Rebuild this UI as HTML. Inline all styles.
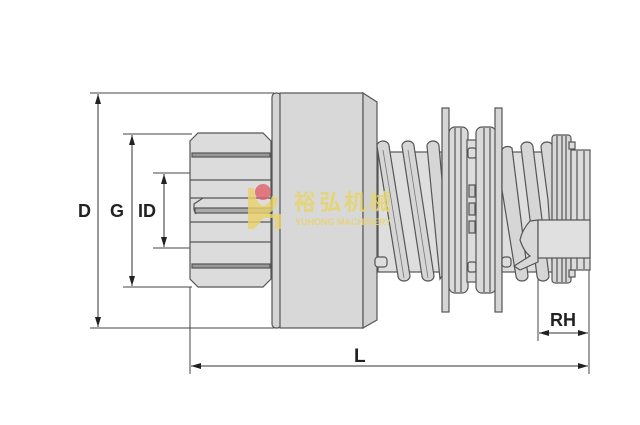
<!DOCTYPE html>
<html><head><meta charset="utf-8"><style>
html,body{margin:0;padding:0;background:#fff;}
svg{display:block;}
</style></head><body>
<svg width="640" height="425" viewBox="0 0 640 425" xmlns="http://www.w3.org/2000/svg">
<defs>
<marker id="a" viewBox="0 0 10 6" refX="10" refY="3" markerWidth="10" markerHeight="6" markerUnits="userSpaceOnUse" orient="auto-start-reverse"><path d="M0,0 L10,3 L0,6 z" fill="#222"/></marker>
</defs>
<rect width="640" height="425" fill="#fff"/>

<!-- dimension extension lines -->
<g stroke="#444" stroke-width="1" fill="none">
<line x1="90" y1="93" x2="274" y2="93"/>
<line x1="90" y1="328" x2="274" y2="328"/>
<line x1="123" y1="134" x2="192" y2="134"/>
<line x1="123" y1="287" x2="192" y2="287"/>
<line x1="153" y1="173" x2="190" y2="173"/>
<line x1="153" y1="248" x2="190" y2="248"/>
<line x1="190" y1="287" x2="190" y2="374"/>
<line x1="589" y1="262" x2="589" y2="374"/>
<line x1="538" y1="262" x2="538" y2="341"/>
</g>
<g stroke="#333" stroke-width="1">
<line x1="98" y1="94" x2="98" y2="327" marker-start="url(#a)" marker-end="url(#a)"/>
<line x1="132" y1="135" x2="132" y2="286" marker-start="url(#a)" marker-end="url(#a)"/>
<line x1="164" y1="174" x2="164" y2="247" marker-start="url(#a)" marker-end="url(#a)"/>
<line x1="191" y1="366" x2="588" y2="366" marker-start="url(#a)" marker-end="url(#a)"/>
<line x1="539" y1="333" x2="588" y2="333" marker-start="url(#a)" marker-end="url(#a)"/>
</g>
<g font-family="Liberation Sans, sans-serif" font-weight="bold" font-size="18" fill="#222">
<text x="78" y="217">D</text>
<text x="110" y="217">G</text>
<text x="138" y="217">ID</text>
<text x="354" y="362" font-size="19">L</text>
<text x="550" y="326">RH</text>
</g>

<!-- pinion -->
<g stroke="#555" stroke-width="1.2">
<polygon points="198,133 263,133 271,141 271,279 263,287 198,287 190,279 190,141" fill="#dcdcdc"/>
<rect x="192" y="153" width="78" height="4" fill="#999"/>
<rect x="192" y="264" width="78" height="4" fill="#999"/>
<line x1="190" y1="180" x2="271" y2="180"/>
<line x1="190" y1="198" x2="271" y2="198"/>
<rect x="195" y="208" width="76" height="5" fill="#aaa"/>
<line x1="190" y1="222" x2="271" y2="222"/>
<line x1="190" y1="242" x2="271" y2="242"/>
<polyline points="203,198 194,204 194,210 196,214" fill="none"/>
</g>

<!-- main body -->
<g stroke="#555" stroke-width="1.2">
<rect x="272" y="93" width="9" height="235" rx="4" fill="#d4d4d4"/>
<rect x="280" y="93" width="83" height="235" fill="#d8d8d8"/>
<polygon points="363,93 377,102 377,320 363,328" fill="#d0d0d0"/>
</g>

<!-- spring 1 -->
<g stroke="#555" stroke-width="1.2">
<rect x="378" y="152" width="64" height="120" fill="#dedede"/>
<rect x="375" y="257" width="12" height="10" rx="3" fill="#ddd"/>
<path d="M377,146 a6,5 0 0 1 12,0 L410,276 a6,5 0 0 1 -12,0 Z" fill="#d6d6d6"/>
<path d="M402,146 a6,5 0 0 1 12,0 L434,276 a6,5 0 0 1 -12,0 Z" fill="#d6d6d6"/>
<path d="M427,146 a6,5 0 0 1 12,0 L442,180 L442,276 L440,279 Z" fill="#d6d6d6"/>
<line x1="383" y1="150" x2="404" y2="278" stroke="#777" stroke-width="0.8"/>
<line x1="408" y1="150" x2="428" y2="278" stroke="#777" stroke-width="0.8"/>
</g>

<!-- disks & hubs -->
<g stroke="#555" stroke-width="1.2">
<rect x="442" y="108" width="7" height="204" fill="#d6d6d6"/>
<rect x="449" y="127" width="19" height="166" rx="6" fill="#dadada"/>
<line x1="455" y1="128" x2="455" y2="292"/>
<line x1="461" y1="128" x2="461" y2="292"/>
<rect x="467" y="140" width="10" height="142" fill="#dcdcdc"/>
<rect x="468" y="148" width="8" height="10" rx="2" fill="#ddd"/>
<rect x="468" y="262" width="8" height="10" rx="2" fill="#ddd"/>
<rect x="469" y="185" width="6" height="12" fill="#ccc"/>
<rect x="469" y="203" width="6" height="12" fill="#ccc"/>
<rect x="469" y="221" width="6" height="12" fill="#ccc"/>
<rect x="476" y="127" width="20" height="166" rx="6" fill="#dadada"/>
<line x1="484" y1="128" x2="484" y2="292"/>
<line x1="490" y1="128" x2="490" y2="292"/>
<rect x="495" y="108" width="7" height="204" fill="#d6d6d6"/>
</g>

<!-- spring 2 -->
<g stroke="#555" stroke-width="1.2">
<rect x="502" y="152" width="51" height="120" fill="#dedede"/>
<rect x="502" y="257" width="9" height="10" rx="3" fill="#ddd"/>
<path d="M502,150 a6,5 0 0 1 10,-2 L528,276 a6,5 0 0 1 -12,0 L502,190 Z" fill="#d6d6d6"/>
<path d="M521,147 a6,5 0 0 1 12,0 L549,276 a6,5 0 0 1 -12,0 Z" fill="#d6d6d6"/>
<path d="M541,147 a6,5 0 0 1 12,0 L553,276 L548,200 Z" fill="#d6d6d6"/>
</g>

<!-- collar & end -->
<g stroke="#555" stroke-width="1.2">
<rect x="552" y="135" width="19" height="148" rx="3" fill="#d8d8d8"/>
<line x1="557" y1="136" x2="557" y2="282"/>
<line x1="562" y1="136" x2="562" y2="282"/>
<line x1="566" y1="136" x2="566" y2="282"/>
<rect x="569" y="142" width="6" height="7" fill="#ddd"/>
<rect x="569" y="270" width="6" height="7" fill="#ddd"/>
<rect x="571" y="150" width="19" height="120" fill="#dcdcdc"/>
<line x1="577" y1="151" x2="577" y2="269"/>
<line x1="584" y1="151" x2="584" y2="269"/>
<path d="M538,220 L530,221 Q522,230 520,240 Q524,252 530,256 L514,266 L520,270 L538,262 Z" fill="#d8d8d8"/>
<rect x="538" y="220" width="52" height="38" fill="#e0e0e0"/>
</g>

<!-- watermark -->
<g opacity="0.8">
<path d="M248,188 L254,188 Q256,204 263,206 Q270,204 272,196 L278,198 Q276,210 268,214 L281,214 L281,229 L275,229 L275,218 L264,218 L254,229 L248,229 Z" fill="#ebd36a"/>
<circle cx="263" cy="192" r="8" fill="#e0606a"/>
</g>
<text x="294" y="210" font-family="Liberation Sans, Noto Sans CJK SC, sans-serif" font-weight="bold" font-size="22" letter-spacing="3" fill="#e6d473" fill-opacity="0.9">裕弘机械</text>
<text x="295" y="225" font-family="Liberation Sans, sans-serif" font-weight="bold" font-size="9" fill="#e6d473" fill-opacity="0.9">YUHONG MACHINERY</text>
</svg>
</body></html>
